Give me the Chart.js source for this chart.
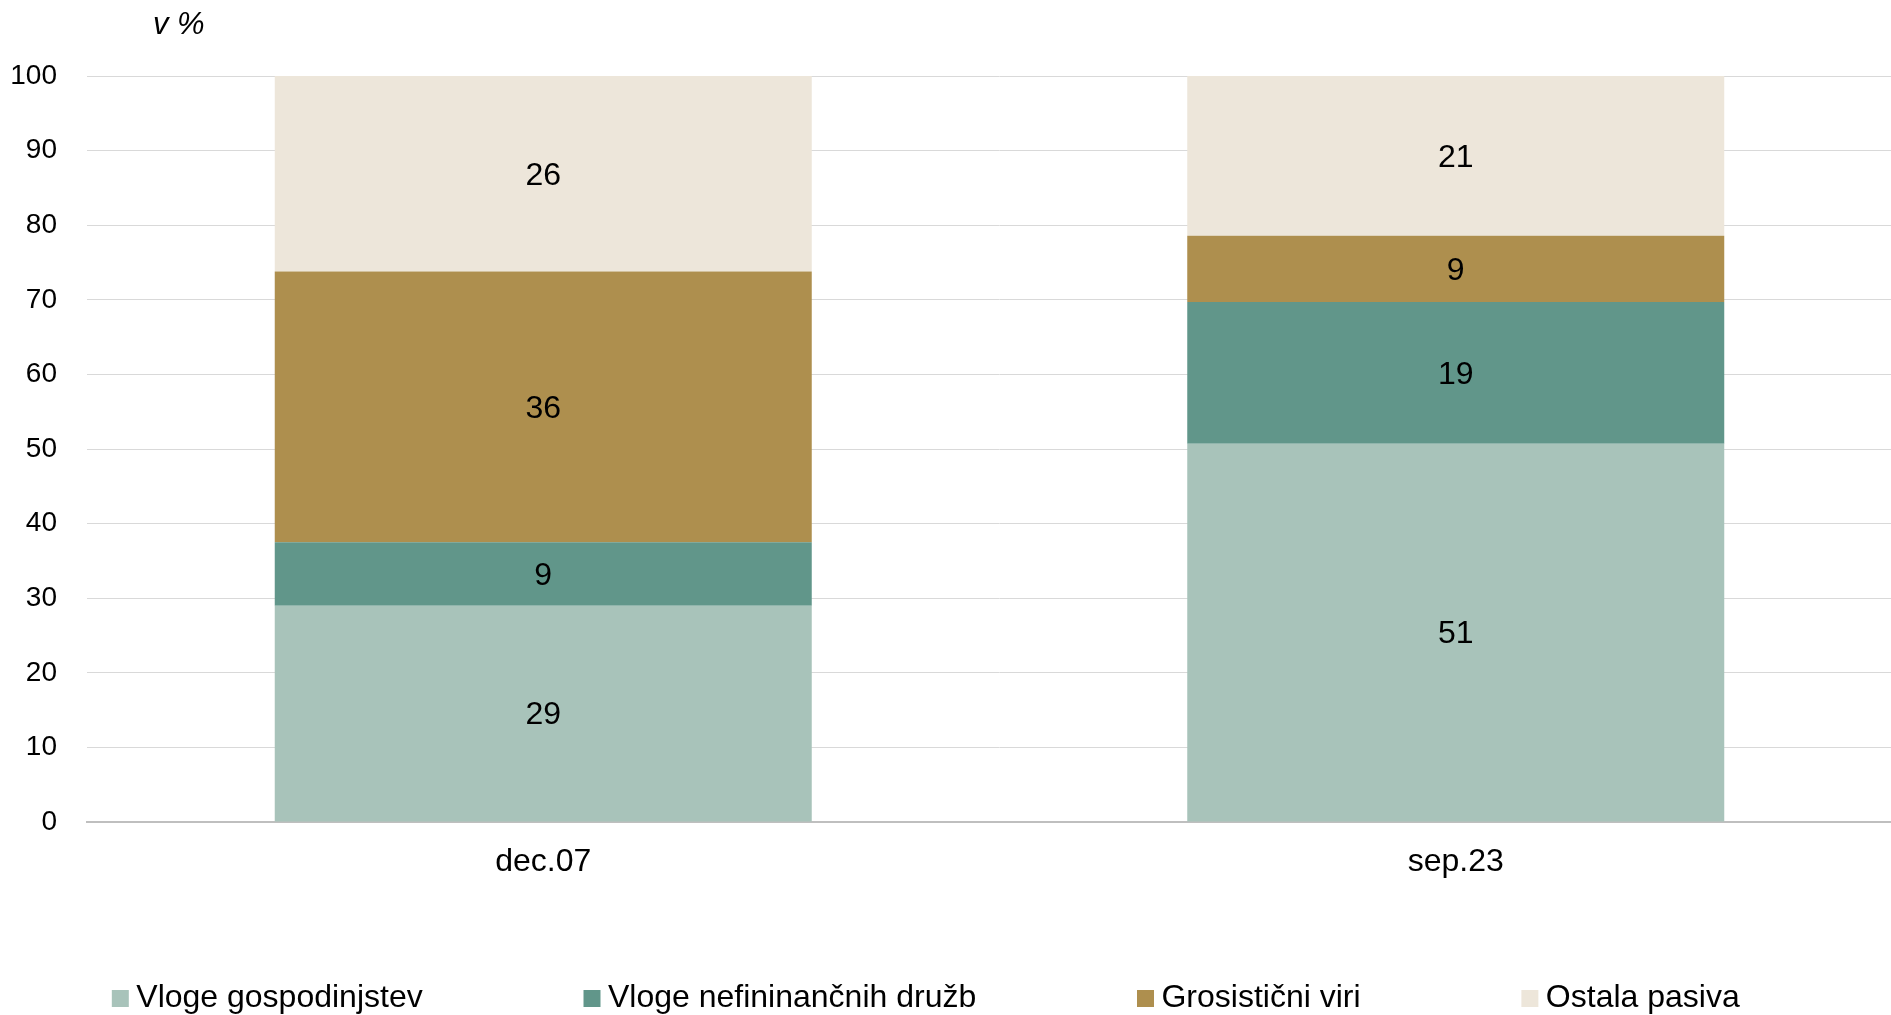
<!DOCTYPE html>
<html>
<head>
<meta charset="utf-8">
<script src="https://cdn.jsdelivr.net/npm/chart.js@4.4.1/dist/chart.umd.min.js"></script>
<style>
  html, body { margin: 0; padding: 0; background: #fff; overflow: hidden; }
  #wrap { position: absolute; left: -69px; top: 0; width: 1981px; height: 1024px; }
</style>
</head>
<body>
<div id="wrap"><canvas id="chart"></canvas></div>
<script>
// data (v %)
const categories = ['dec.07', 'sep.23'];
const seriesNames = ['Vloge gospodinjstev', 'Vloge nefininančnih družb', 'Grosistični viri', 'Ostala pasiva'];
const gospodinjstva = [29.0, 50.7];
const nefinancne = [8.5, 19.0];
const grosisticni = [36.3, 8.9];
const ostala = [26.2, 21.4];
const yMin = 0, yMax = 100, yStep = 10;
const unitLabel = 'v %';

const colors = ['#a8c3ba', '#61968a', '#ae8f4e', '#ede6da'];
const seriesValues = [gospodinjstva, nefinancne, grosisticni, ostala];

const mainFont = "'Liberation Sans', Arial, sans-serif";

// legend squares: small canvases so the square sits close to its text
function legendBox(color) {
    const c = document.createElement('canvas');
    c.width = 50;
    c.height = 17;
    const g = c.getContext('2d');
    g.fillStyle = color;
    g.fillRect(25, 0, 17, 17);
    return c;
}
const boxImages = colors.map(legendBox);

// draws the rounded value in the middle of every bar segment
const segmentLabels = {
    id: 'segmentLabels',
    afterDatasetsDraw(chart) {
        const ctx = chart.ctx;
        ctx.save();
        ctx.font = '32px ' + mainFont;
        ctx.fillStyle = '#000';
        ctx.textAlign = 'center';
        ctx.textBaseline = 'middle';
        chart.data.datasets.forEach((ds, i) => {
            chart.getDatasetMeta(i).data.forEach((bar, j) => {
                const v = ds.data[j];
                ctx.fillText(String(Math.round(v)), bar.x, (bar.y + bar.base) / 2 + 2);
            });
        });
        ctx.restore();
    }
};

// unit text above the value axis
const unitTitle = {
    id: 'unitTitle',
    afterDraw(chart) {
        const ctx = chart.ctx;
        ctx.save();
        ctx.font = 'italic 31px ' + mainFont;
        ctx.fillStyle = '#000';
        ctx.textAlign = 'left';
        ctx.textBaseline = 'middle';
        ctx.fillText(unitLabel, chart.chartArea.left + 66, 25);
        ctx.restore();
    }
};

const gap = ' '.repeat(16);

new Chart(document.getElementById('chart'), {
    type: 'bar',
    data: {
        labels: categories,
        datasets: seriesValues.map((vals, i) => ({
            label: seriesNames[i],
            data: vals,
            backgroundColor: colors[i],
            borderWidth: 0,
            categoryPercentage: 1,
            barPercentage: 0.5885
        }))
    },
    options: {
        responsive: true,
        maintainAspectRatio: false,
        animation: false,
        layout: {
            padding: { top: 76, left: 0, right: 0, bottom: 0 }
        },
        plugins: {
            tooltip: { enabled: false },
            legend: {
                position: 'bottom',
                labels: {
                    usePointStyle: true,
                    boxWidth: 17,
                    boxHeight: 17,
                    padding: 10,
                    color: '#000',
                    font: { size: 32, family: mainFont },
                    generateLabels(chart) {
                        const items = Chart.defaults.plugins.legend.labels.generateLabels(chart);
                        items.forEach((it, i) => {
                            it.pointStyle = boxImages[i];
                            it.lineWidth = 0;
                            if (i < items.length - 1) it.text = it.text + gap;
                        });
                        return items;
                    }
                }
            }
        },
        scales: {
            x: {
                stacked: true,
                grid: { display: false, drawTicks: false },
                border: { display: true, color: '#bfbfbf', width: 2 },
                ticks: {
                    color: '#000',
                    padding: 21,
                    font: { size: 32, family: mainFont }
                },
                afterFit(scale) { scale.height = 150; }
            },
            y: {
                stacked: true,
                min: yMin,
                max: yMax,
                grid: { color: '#d9d9d9', lineWidth: 1, drawTicks: false },
                border: { display: false },
                ticks: {
                    stepSize: yStep,
                    color: '#000',
                    padding: 30,
                    font: { size: 28, family: mainFont }
                },
                afterFit(scale) { scale.width = 156; }
            }
        }
    },
    plugins: [segmentLabels, unitTitle]
});
</script>
</body>
</html>
